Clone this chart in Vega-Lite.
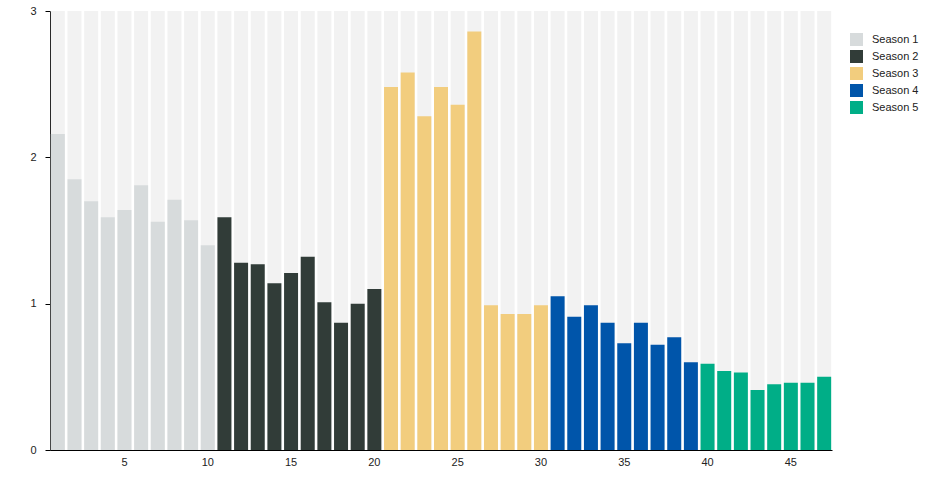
{
  "$schema": "https://vega.github.io/schema/vega-lite/v6.json",
  "autosize": "none",
  "width": 782,
  "height": 439,
  "padding": {"left": 50, "top": 11, "right": 100, "bottom": 50},
  "data": {
    "values": [
      {"ep": 1, "value": 2.16, "season": "Season 1"},
      {"ep": 2, "value": 1.85, "season": "Season 1"},
      {"ep": 3, "value": 1.70, "season": "Season 1"},
      {"ep": 4, "value": 1.59, "season": "Season 1"},
      {"ep": 5, "value": 1.64, "season": "Season 1"},
      {"ep": 6, "value": 1.81, "season": "Season 1"},
      {"ep": 7, "value": 1.56, "season": "Season 1"},
      {"ep": 8, "value": 1.71, "season": "Season 1"},
      {"ep": 9, "value": 1.57, "season": "Season 1"},
      {"ep": 10, "value": 1.40, "season": "Season 1"},
      {"ep": 11, "value": 1.59, "season": "Season 2"},
      {"ep": 12, "value": 1.28, "season": "Season 2"},
      {"ep": 13, "value": 1.27, "season": "Season 2"},
      {"ep": 14, "value": 1.14, "season": "Season 2"},
      {"ep": 15, "value": 1.21, "season": "Season 2"},
      {"ep": 16, "value": 1.32, "season": "Season 2"},
      {"ep": 17, "value": 1.01, "season": "Season 2"},
      {"ep": 18, "value": 0.87, "season": "Season 2"},
      {"ep": 19, "value": 1.00, "season": "Season 2"},
      {"ep": 20, "value": 1.10, "season": "Season 2"},
      {"ep": 21, "value": 2.48, "season": "Season 3"},
      {"ep": 22, "value": 2.58, "season": "Season 3"},
      {"ep": 23, "value": 2.28, "season": "Season 3"},
      {"ep": 24, "value": 2.48, "season": "Season 3"},
      {"ep": 25, "value": 2.36, "season": "Season 3"},
      {"ep": 26, "value": 2.86, "season": "Season 3"},
      {"ep": 27, "value": 0.99, "season": "Season 3"},
      {"ep": 28, "value": 0.93, "season": "Season 3"},
      {"ep": 29, "value": 0.93, "season": "Season 3"},
      {"ep": 30, "value": 0.99, "season": "Season 3"},
      {"ep": 31, "value": 1.05, "season": "Season 4"},
      {"ep": 32, "value": 0.91, "season": "Season 4"},
      {"ep": 33, "value": 0.99, "season": "Season 4"},
      {"ep": 34, "value": 0.87, "season": "Season 4"},
      {"ep": 35, "value": 0.73, "season": "Season 4"},
      {"ep": 36, "value": 0.87, "season": "Season 4"},
      {"ep": 37, "value": 0.72, "season": "Season 4"},
      {"ep": 38, "value": 0.77, "season": "Season 4"},
      {"ep": 39, "value": 0.60, "season": "Season 4"},
      {"ep": 40, "value": 0.59, "season": "Season 5"},
      {"ep": 41, "value": 0.54, "season": "Season 5"},
      {"ep": 42, "value": 0.53, "season": "Season 5"},
      {"ep": 43, "value": 0.41, "season": "Season 5"},
      {"ep": 44, "value": 0.45, "season": "Season 5"},
      {"ep": 45, "value": 0.46, "season": "Season 5"},
      {"ep": 46, "value": 0.46, "season": "Season 5"},
      {"ep": 47, "value": 0.50, "season": "Season 5"}
    ]
  },
  "encoding": {
    "x": {
      "field": "ep",
      "type": "ordinal",
      "scale": {"paddingInner": 0.16, "paddingOuter": 0.05},
      "axis": {
        "title": null,
        "labelAngle": 0,
        "ticks": false,
        "labelPadding": 6,
        "labelExpr": "datum.value % 5 === 0 ? datum.label : ''"
      }
    }
  },
  "layer": [
    {
      "mark": {"type": "bar", "color": "#f2f2f2"},
      "encoding": {
        "y": {"datum": 3, "type": "quantitative", "scale": {"domain": [0, 3]}}
      }
    },
    {
      "mark": "bar",
      "encoding": {
        "y": {
          "field": "value",
          "type": "quantitative",
          "scale": {"domain": [0, 3]},
          "axis": {"title": null, "values": [0, 1, 2, 3], "format": "d", "grid": false, "tickSize": 5, "labelPadding": 9}
        },
        "color": {
          "field": "season",
          "type": "nominal",
          "scale": {"range": ["#d7dbdc", "#313c38", "#f2cd7e", "#0055aa", "#00ae87"]},
          "legend": {
            "title": null,
            "orient": "none",
            "legendX": 800,
            "legendY": 22,
            "symbolType": "square",
            "symbolSize": 169,
            "symbolOpacity": 1,
            "symbolStrokeWidth": 0,
            "labelFontSize": 11,
            "labelOffset": 9,
            "rowPadding": 4
          }
        }
      }
    }
  ],
  "config": {
    "view": {"stroke": null},
    "font": "Liberation Sans",
    "axis": {
      "domainColor": "#000",
      "tickColor": "#000",
      "labelColor": "#222",
      "labelFontSize": 11,
      "labelFont": "Liberation Sans"
    },
    "legend": {"labelFont": "Liberation Sans", "labelColor": "#222"}
  }
}
